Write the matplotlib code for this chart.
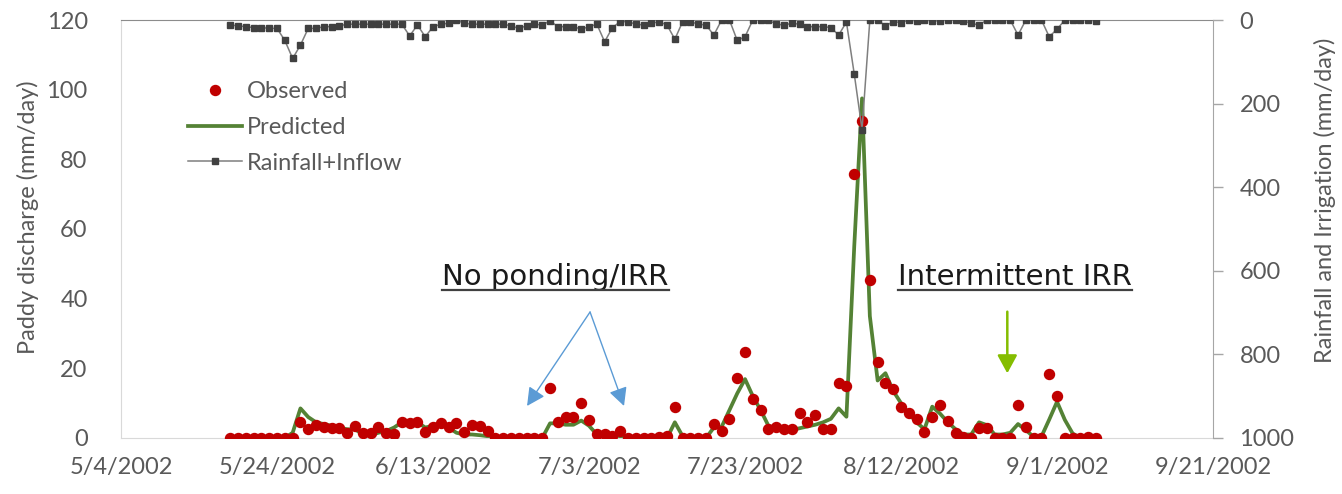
import matplotlib
matplotlib.use("Agg")
import matplotlib.pyplot as plt
from matplotlib.lines import Line2D
import pandas as pd

plt.rcParams['font.family'] = ['Lato', 'DejaVu Sans']

# Daily series starting 5/18/2002
start = "2002-05-18"
observed = [0, 0, 0, 0, 0, 0, 0, 0, 0, 4.5,
            2.5, 3.7, 3.2, 2.8, 2.8, 1.5, 3.4, 1.3, 1.5, 3.2,
            1.5, 1.1, 4.7, 4.4, 4.7, 1.8, 3.2, 4.2, 3.2, 4.4,
            1.8, 3.7, 3.4, 2.1, 0, 0, 0, 0, 0, 0,
            0, 14.3, 4.7, 6.1, 6.1, 10.0, 5.2, 1.1, 1.1, 0.6,
            2.1, 0, 0, 0, 0, 0.3, 0.6, 8.8, 0, 0,
            0, 0, 4.0, 2.1, 5.4, 17.1, 24.8, 11.1, 8.0, 2.5,
            3.2, 2.5, 2.5, 7.3, 4.7, 6.6, 2.5, 2.5, 15.9, 14.9,
            75.8, 91.0, 45.4, 21.9, 15.9, 14.0, 8.8, 7.3, 5.4, 1.8,
            6.1, 9.5, 5.0, 1.5, 0.4, 0, 2.8, 2.8, 0, 0,
            0, 9.5, 3.2, 0, 0, 18.3, 12.1, 0, 0, 0,
            0.2, 0]
predicted = [0, 0, 0, 0, 0, 0, 0, 0, 1.5, 8.5,
             6.0, 4.5, 4.0, 3.5, 3.0, 2.5, 2.5, 1.0, 0.8, 1.5,
             2.0, 3.0, 4.5, 4.0, 4.5, 3.0, 3.5, 4.5, 3.0, 1.5,
             1.0, 1.0, 0.8, 0.5, 0, 0, 0, 0, 0, 0,
             0, 4.2, 4.2, 3.8, 3.8, 5.0, 3.5, 1.0, 1.0, 0.8,
             0.5, 0, 0, 0, 0, 0, 0, 4.5, 0.5, 0,
             0, 0, 3.0, 3.2, 8.0, 12.8, 16.9, 12.0, 8.0, 3.5,
             2.8, 2.5, 2.3, 2.8, 3.3, 3.8, 4.5, 5.5, 8.5, 6.1,
             55.0, 97.5, 35.0, 16.5, 18.6, 13.5, 10.0, 7.0, 4.5, 2.5,
             9.0, 7.0, 4.5, 2.5, 1.0, 1.0, 4.5, 3.7, 1.0, 1.0,
             1.5, 4.0, 2.3, 0.3, 0.4, 5.3, 10.4, 5.2, 1.3, 0,
             0, 0]
rain = [12, 14, 16, 18, 18, 20, 20, 49, 92, 60,
        20, 20, 16, 16, 14, 10, 10, 10, 10, 10,
        10, 10, 10, 38, 12, 40, 16, 10, 8, 0,
        8, 10, 10, 10, 10, 10, 14, 20, 14, 10,
        12, 2, 16, 16, 16, 22, 16, 10, 52, 18,
        4, 4, 10, 12, 8, 4, 12, 46, 4, 4,
        10, 12, 36, 0, 0, 49, 40, 0, 0, 0,
        10, 12, 8, 10, 16, 16, 16, 18, 36, 5,
        129, 262, 0, 0, 14, 4, 6, 0, 2, 0,
        2, 2, 0, 0, 2, 8, 12, 0, 0, 0,
        0, 36, 0, 0, 0, 40, 22, 0, 0, 0,
        0, 2]

dates = pd.date_range(start, periods=len(observed), freq="D")
tick_dates = pd.date_range("2002-05-04", "2002-09-21", freq="20D")
tick_labels = [f"{d.month}/{d.day}/{d.year}" for d in tick_dates]

label_color = '#595959'

fig = plt.figure(figsize=(13.42, 4.94), dpi=100)
ax = fig.add_axes([0.0902, 0.1134, 0.8137, 0.8461])
ax2 = ax.twinx()

h_pred, = ax.plot(dates, predicted, color='#548235', lw=2.7, zorder=2)
h_obs, = ax.plot(dates, observed, 'o', color='#C00000', ms=7.2, zorder=3)
h_rain, = ax2.plot(dates, rain, '-s', color='#7F7F7F', lw=1.1,
                   mfc='#404040', mec='#404040', ms=4.3)

ax.set_xlim(tick_dates[0], tick_dates[-1])
ax.set_ylim(0, 120)
ax2.set_ylim(1000, 0)
ax.set_xticks(tick_dates)
ax.set_xticklabels(tick_labels)
ax.set_yticks(range(0, 121, 20))
ax2.set_yticks(range(0, 1001, 200))

for s in ['left', 'bottom']:
    ax.spines[s].set_color('#D9D9D9')
ax.spines['top'].set_color('#8C8C8C')
ax.spines['right'].set_visible(False)
for s in ['left', 'bottom', 'top']:
    ax2.spines[s].set_visible(False)
ax2.spines['right'].set_color('#A6A6A6')

ax.tick_params(axis='y', length=0, pad=24, labelsize=17, labelcolor=label_color)
ax.tick_params(axis='x', length=0, pad=14, labelsize=17, labelcolor=label_color)
ax2.tick_params(axis='y', length=7, width=1, color='#A6A6A6', pad=12,
                labelsize=17, labelcolor=label_color)

ax.set_ylabel('Paddy discharge (mm/day)', fontsize=17, color=label_color)
ax.yaxis.set_label_coords(-0.0852, 0.529)
ax.yaxis.label.set_verticalalignment('center')
ax2.set_ylabel('Rainfall and Irrigation (mm/day)', fontsize=17, color=label_color,
               rotation=90)
ax2.yaxis.set_label_coords(1.1026, 0.569)
ax2.yaxis.label.set_verticalalignment('center')

ax2.legend([h_obs, h_pred, h_rain], ['Observed', 'Predicted', 'Rainfall+Inflow'],
           loc='upper left', bbox_to_anchor=(0.0614, 0.853), frameon=False,
           fontsize=17, labelcolor=label_color, handlelength=2.3,
           handletextpad=0.2, labelspacing=0.62, borderpad=0, borderaxespad=0,
           numpoints=1)

# annotations
notes = []
for x, s in [(0.398, 'No ponding/IRR'), (0.8187, 'Intermittent IRR')]:
    t = ax2.text(x, 0.366, s, transform=ax2.transAxes, ha='center', va='baseline',
                 fontsize=21, color='#1A1A1A', family='DejaVu Sans')
    notes.append((x, t))

blue = '#5B9BD5'
for tip in [(0.3718, 0.0766), (0.4606, 0.0766)]:
    ax2.annotate('', xy=tip, xytext=(0.4295, 0.3014), xycoords='axes fraction',
                 arrowprops=dict(arrowstyle='-|>,head_length=0.55,head_width=0.28',
                                 color=blue, lw=1.0, shrinkA=0, shrinkB=0,
                                 mutation_scale=20))
ax2.annotate('', xy=(0.8116, 0.1547), xytext=(0.8116, 0.3022), xycoords='axes fraction',
             arrowprops=dict(arrowstyle='-|>,head_length=0.55,head_width=0.3',
                             color='#84BD00', lw=1.8, shrinkA=0, shrinkB=0,
                             mutation_scale=20))

fig.canvas.draw()
for x, t in notes:
    bb = t.get_window_extent()
    yb = ax2.transAxes.transform((x, 0.366))[1] - 5
    fig.add_artist(Line2D([bb.x0, bb.x1], [yb, yb], transform=None,
                          color='#404040', lw=1.6))

fig.savefig('out.png', dpi=100)
